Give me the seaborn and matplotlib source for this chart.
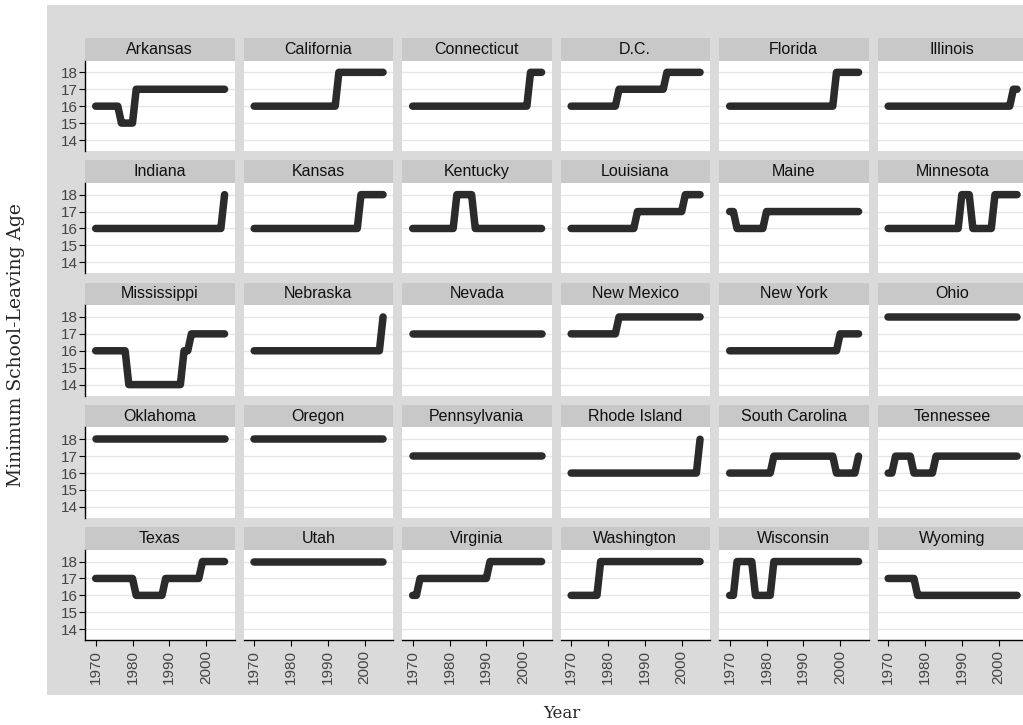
import seaborn as sns
import matplotlib.pyplot as plt
import pandas as pd
from matplotlib.patches import Rectangle

# Minimum school-leaving age by state; each entry is (first year, age) for a law change
years = list(range(1970, 2006))
states = ['Arkansas', 'California', 'Connecticut', 'D.C.', 'Florida', 'Illinois',
          'Indiana', 'Kansas', 'Kentucky', 'Louisiana', 'Maine', 'Minnesota',
          'Mississippi', 'Nebraska', 'Nevada', 'New Mexico', 'New York', 'Ohio',
          'Oklahoma', 'Oregon', 'Pennsylvania', 'Rhode Island', 'South Carolina', 'Tennessee',
          'Texas', 'Utah', 'Virginia', 'Washington', 'Wisconsin', 'Wyoming']
age_changes = [
    [(1970, 16), (1977, 15), (1981, 17)],
    [(1970, 16), (1993, 18)],
    [(1970, 16), (2002, 18)],
    [(1970, 16), (1983, 17), (1996, 18)],
    [(1970, 16), (1999, 18)],
    [(1970, 16), (2004, 17)],
    [(1970, 16), (2005, 18)],
    [(1970, 16), (1999, 18)],
    [(1970, 16), (1982, 18), (1987, 16)],
    [(1970, 16), (1988, 17), (2001, 18)],
    [(1970, 17), (1972, 16), (1980, 17)],
    [(1970, 16), (1990, 18), (1993, 16), (1999, 18)],
    [(1970, 16), (1979, 14), (1994, 16), (1996, 17)],
    [(1970, 16), (2005, 18)],
    [(1970, 17)],
    [(1970, 17), (1983, 18)],
    [(1970, 16), (2000, 17)],
    [(1970, 18)],
    [(1970, 18)],
    [(1970, 18)],
    [(1970, 17)],
    [(1970, 16), (2005, 18)],
    [(1970, 16), (1982, 17), (1999, 16), (2005, 17)],
    [(1970, 16), (1972, 17), (1977, 16), (1983, 17)],
    [(1970, 17), (1981, 16), (1989, 17), (1999, 18)],
    [(1970, 18)],
    [(1970, 16), (1972, 17), (1991, 18)],
    [(1970, 16), (1978, 18)],
    [(1970, 16), (1972, 18), (1977, 16), (1982, 18)],
    [(1970, 17), (1978, 16)],
]
x_ticks = [1970, 1980, 1990, 2000]
y_ticks = [14, 15, 16, 17, 18]

rows = []
for state, changes in zip(states, age_changes):
    for year in years:
        age = [a for y, a in changes if y <= year][-1]
        rows.append((state, year, age))
df = pd.DataFrame(rows, columns=['state', 'year', 'age'])

sns.set_style('white')
plt.rcParams['font.family'] = ['Liberation Sans', 'DejaVu Sans']

W, H = 1023, 725
g = sns.FacetGrid(df, col='state', col_order=states, col_wrap=6,
                  sharex=True, sharey=True, despine=False)
g.map_dataframe(sns.lineplot, x='year', y='age', color='#2b2b2b', linewidth=5.4,
                solid_capstyle='round', solid_joinstyle='round',
                estimator=None, errorbar=None)
g.set_titles(template='')
g.set_axis_labels('', '')
fig = g.figure
fig.set_size_inches(W / 100, H / 100)
fig.set_dpi(100)

# grey plot background
fig.add_artist(Rectangle((47 / W, 1 - 695 / H), (W - 47) / W, 690 / H,
                         transform=fig.transFigure, facecolor='#dadada',
                         edgecolor='none', zorder=-5))

panel_w, panel_h, strip_h = 149.5, 90.5, 22.5
for i, ax in enumerate(g.axes.flat):
    r, c = divmod(i, 6)
    left = 85 + c * 158.5
    top = 60.5 + r * 122.3
    ax.set_position([left / W, 1 - (top + panel_h) / H, panel_w / W, panel_h / H])
    ax.set_facecolor('white')
    ax.set_xlim(1967.1, 2007.7)
    ax.set_ylim(13.35, 18.7)
    ax.set_xticks(x_ticks)
    ax.set_yticks(y_ticks)
    ax.yaxis.grid(True, color='#e6e6e6', linewidth=1)
    ax.xaxis.grid(False)
    ax.set_axisbelow(True)
    for name, sp in ax.spines.items():
        sp.set_visible(False)
    if c == 0:
        ax.spines['left'].set_visible(True)
        ax.spines['left'].set_color('black')
        ax.spines['left'].set_linewidth(1)
    if r == 4:
        ax.spines['bottom'].set_visible(True)
        ax.spines['bottom'].set_color('black')
        ax.spines['bottom'].set_linewidth(1)
    ax.tick_params(axis='y', left=(c == 0), labelleft=(c == 0), direction='out',
                   length=4, width=0.8, color='black', labelsize=11,
                   labelcolor='#444444', pad=1)
    ax.tick_params(axis='x', bottom=(r == 4), labelbottom=(r == 4), direction='out',
                   length=4, width=0.8, color='black', labelsize=11,
                   labelcolor='#444444', labelrotation=90, pad=3)
    # strip with state name
    ax.add_patch(Rectangle((0, 1), 1, strip_h / panel_h, transform=ax.transAxes,
                           facecolor='#c8c8c8', edgecolor='none', clip_on=False))
    ax.text(0.5, 1 + strip_h / panel_h / 2, states[i], transform=ax.transAxes,
            ha='center', va='center', fontsize=11.5, color='#111111')

fig.text(16 / W, 1 - 345 / H, 'Minimum School-Leaving Age', rotation=90,
         ha='center', va='center', family='DejaVu Serif', fontsize=13.5)
fig.text(562 / W, 1 - 713 / H, 'Year', ha='center', va='center',
         family='DejaVu Serif', fontsize=12)

fig.savefig('out.png', dpi=100)
